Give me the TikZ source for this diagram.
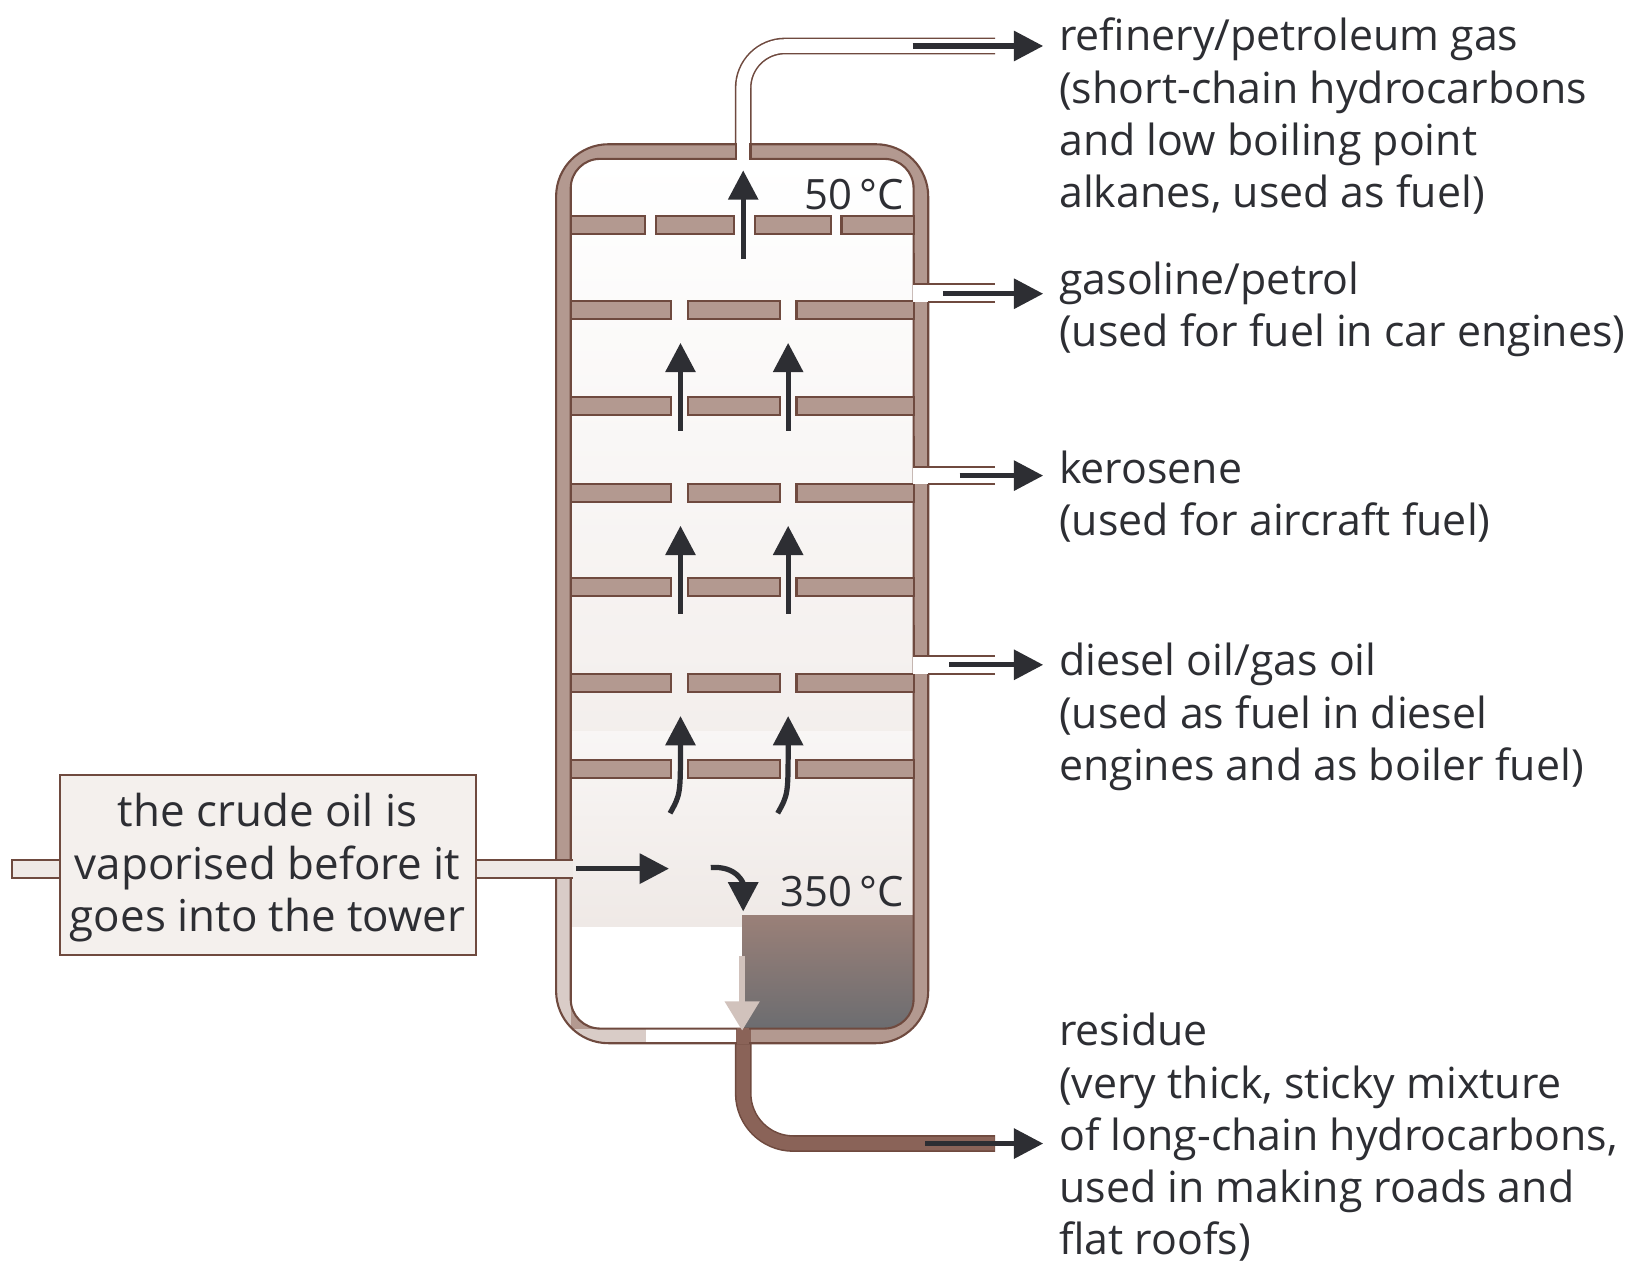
\documentclass[tikz,border=0pt]{standalone}
\usepackage{fontspec}
\setmainfont{Open Sans}
\usetikzlibrary{arrows.meta}
\definecolor{wallf}{HTML}{B39990}
\definecolor{walld}{HTML}{6F4A3F}
\definecolor{arr}{HTML}{2D2E33}
\definecolor{vap}{HTML}{EFE9E6}
\definecolor{resd}{HTML}{8A6358}
\definecolor{restop}{HTML}{9A8078}
\begin{document}
\begin{tikzpicture}[x=0.5pt,y=-0.5pt,
  wall/.style={fill=wallf,draw=walld,line width=1pt},
  flow/.style={draw=arr,line width=2.5pt,-{Triangle[length=14pt,width=14pt]}},
  lab/.style={anchor=north west,align=left,font=\fontsize{20.5}{25}\selectfont,inner sep=0pt,text=arr},
  tmp/.style={anchor=east,font=\fontsize{20}{22}\selectfont,inner sep=0pt,text=arr}]
\useasboundingbox (0,0) rectangle (1568,1221);
% top pipe
\draw[walld,line width=8pt,rounded corners=20pt] (711,160) -- (711,44) -- (952,44);
\draw[white,line width=6.5pt,rounded corners=20pt] (711,161) -- (711,44) -- (953,44);
% residue pipe
\draw[walld,line width=8pt,rounded corners=24pt] (711,980) -- (711,1094) -- (952,1094);
\draw[resd,line width=6.5pt,rounded corners=24pt] (711,979) -- (711,1094) -- (951.5,1094);
% tower
\fill[wallf,rounded corners=25] (532,138) rectangle (888,998);
\begin{scope}
\clip[rounded corners=25] (532,138) rectangle (888,998);
\fill[wallf!50!white] (532,840) rectangle (546,998);
\fill[wallf!50!white] (532,984) rectangle (618,998);
\fill[white] (618,984) rectangle (704,998);
\fill[resd] (704,984) rectangle (718,998);
\end{scope}
\fill[white,rounded corners=14] (546,152) rectangle (874,984);
\begin{scope}
\clip[rounded corners=14] (546,152) rectangle (874,984);
\shade[top color=white,bottom color=vap] (546,152) rectangle (874,886);
\shade[top color=white!60!vap,bottom color=vap] (546,700) rectangle (874,886);
\shade[top color=restop,bottom color=arr!70!white] (710,876) rectangle (874,984);
\end{scope}
\draw[walld,line width=1pt,rounded corners=25] (532,138) rectangle (888,998);
\draw[walld,line width=1pt,rounded corners=14] (546,152) rectangle (874,984);
% top outlet gap
\fill[white] (705,137) rectangle (717,153);
\draw[walld,line width=1pt] (704,138)--(704,152) (718,138)--(718,152);
\fill[resd] (705,983) rectangle (717,999);
% trays
\foreach \y/\segs in {207/{546/617,628/702,722/795,805/874},288/{546/642,658/746,762/874},380/{546/642,658/746,762/874},463/{546/642,658/746,762/874},553/{546/642,658/746,762/874},645/{546/642,658/746,762/874},727/{546/642,658/746,762/874}}{
  \foreach \a/\b in \segs {\draw[wall] (\a,\y) rectangle (\b,\y+17);}
}
% side outlets
\foreach \ya/\yb in {272/289,447/463,628/645}{
  \fill[white] (873,\ya) rectangle (952,\yb);
  \draw[walld,line width=1pt] (874,\ya-30)--(874,\ya)--(952,\ya) (952,\yb)--(888,\yb);
}
% inlet pipe and box
\path[draw=walld,fill=vap,line width=1pt] (12,823) rectangle (547,840);
\fill[vap] (12,824) rectangle (548,839);
\draw[walld,fill=vap!70!white,line width=1pt] (57,741) rectangle (455,914);
\node[font=\fontsize{21}{25}\selectfont,align=center,text=arr] (box) at (256,830) {the crude oil is\\vaporised before it\\goes into the tower};
% arrows
\coordinate (t0) at (711,248); \coordinate (t1) at (711,163);
\draw[flow] (t0) -- (t1);
\foreach \x in {651,754}{
  \draw[flow] (\x,412) -- (\x,328);
  \draw[flow] (\x,587) -- (\x,503);
  \draw[flow] (\x-10,778) .. controls (\x,760) .. (\x,685);
}
\draw[flow] (551,831) -- (640,831);
\draw[flow] (680,830) .. controls (705,828) and (711,845) .. (711,872);
\draw[wallf!60!white,line width=3pt,-{Triangle[length=14pt,width=16pt]}] (710,915) -- (710,986);
\draw[flow] (873,44) -- (998,44);
\draw[flow] (902,281) -- (998,281);
\draw[flow] (918,455) -- (998,455);
\draw[flow] (908,636) -- (998,636);
\draw[flow] (885,1094) -- (998,1094);
% labels
\node[tmp] at (865,186) {50\,°C};
\node[tmp] at (865,853) {350\,°C};
\node[lab] at (1013,17) {refinery/petroleum gas\\(short-chain hydrocarbons\\and low boiling point\\alkanes, used as fuel)};
\node[lab] at (1013,250) {gasoline/petrol\\(used for fuel in car engines)};
\node[lab] at (1013,431) {kerosene\\(used for aircraft fuel)};
\node[lab] at (1013,615) {diesel oil/gas oil\\(used as fuel in diesel\\engines and as boiler fuel)};
\node[lab] at (1013,969) {residue\\(very thick, sticky mixture\\of long-chain hydrocarbons,\\used in making roads and\\flat roofs)};
\end{tikzpicture}
\end{document}
